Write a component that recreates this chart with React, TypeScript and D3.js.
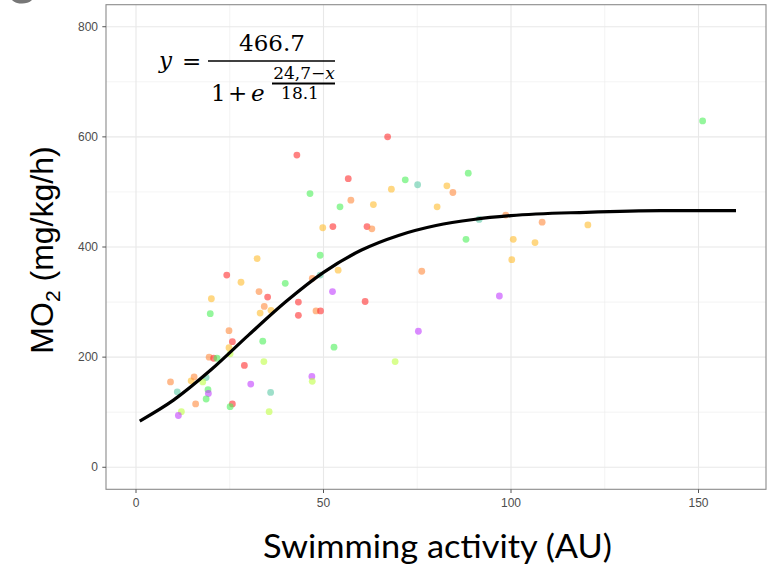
import * as d3 from "d3";

// swimming activity (AU) of each fish
const activity = [
  42.9, 56.6, 46.4, 57.3, 54.4, 49.8, 52.5, 49.1, 32.3, 53.9,
  24.2, 47.0, 49.1, 28.0, 39.8, 52.4, 32.8, 35.1, 20.1, 43.3,
  34.2, 33.1, 36.0, 19.8, 43.3, 48.0, 49.2, 24.8, 25.7, 33.8,
  24.8, 25.1, 19.5, 20.7, 21.6, 34.1, 28.9, 9.2, 14.7, 15.5,
  18.7, 17.8, 11.0, 19.2, 19.3, 30.6, 35.9, 46.9, 47.0, 52.8,
  15.9, 18.7, 25.7, 25.1, 35.5, 12.1, 11.3, 67.1, 75.1, 71.8,
  68.1, 63.3, 88.6, 82.9, 84.5, 80.3, 61.6, 62.9, 91.5, 98.6,
  108.3, 88.0, 100.6, 106.4, 100.2, 76.2, 96.9, 61.1, 75.3, 69.1,
  151.1, 120.5,
];

// MO2 (mg/kg/h)
const mo2 = [
  567, 524, 497, 485, 473, 435, 437, 385, 379, 358,
  349, 343, 349, 336, 334, 319, 319, 309, 306, 300,
  292, 280, 285, 279, 276, 284, 284, 248, 228, 229,
  217, 206, 200, 198, 198, 192, 185, 155, 157, 164,
  163, 155, 137, 141, 134, 151, 136, 165, 156, 218,
  115, 124, 115, 110, 101, 101, 94, 600, 513, 522,
  505, 477, 534, 511, 499, 473, 437, 433, 450, 458,
  445, 414, 414, 408, 377, 356, 311, 301, 247, 192,
  629, 440,
];

// colour group of each point
const group = [
  "R", "R", "G", "O", "G", "Y", "R", "G", "Y", "Y",
  "R", "O", "T", "Y", "G", "P", "O", "R", "Y", "R",
  "O", "Y", "Y", "G", "R", "O", "R", "O", "R", "G",
  "Y", "L", "O", "R", "G", "L", "R", "O", "Y", "O",
  "T", "L", "T", "G", "P", "P", "T", "P", "L", "G",
  "O", "G", "R", "G", "L", "L", "P", "R", "T", "G",
  "Y", "Y", "G", "Y", "O", "Y", "R", "O", "T", "O",
  "O", "G", "Y", "Y", "Y", "O", "P", "R", "P", "L",
  "G", "Y",
];

const groupKeys = ["R", "O", "Y", "L", "G", "T", "P"];
const groupColors = ["#ff2e2e", "#ff8a3d", "#ffbd2e", "#bfff45", "#4cf05a", "#5ec9a6", "#c23dff"];

// fitted logistic curve
const fitX = [1, 10, 20, 30, 40, 50, 60, 70, 80, 90, 100, 120, 140, 160];
const fitY = [84, 122, 177, 240, 301, 354, 394, 421, 439, 450, 457, 463, 466, 466];

const xTicks = [0, 50, 100, 150];
const xMinor = [25, 75, 125];
const yTicks = [0, 200, 400, 600, 800];
const yMinor = [100, 300, 500, 700];

const W = 772;
const H = 567;
const panel = { left: 106, right: 766, top: 4.7, bottom: 489.3 };

export default function App() {
  const x = d3.scaleLinear().domain([-8, 168]).range([panel.left, panel.right]);
  const y = d3.scaleLinear().domain([-40, 840]).range([panel.bottom, panel.top]);
  const color = d3.scaleOrdinal<string, string>().domain(groupKeys).range(groupColors);

  const line = d3
    .line<number>()
    .x((d, i) => x(fitX[i]))
    .y((d) => y(d))
    .curve(d3.curveMonotoneX);

  const tickFont = "'Liberation Sans', Arial, sans-serif";
  const eqFont = "'DejaVu Serif', serif";

  return (
    <svg width={W} height={H} style={{ position: "absolute", left: 0, top: 0, background: "#fff" }}>
      {/* bottom of a cut-off letter above the chart */}
      <text x={9} y={-6} fontFamily="Lato, sans-serif" fontSize={52} fill="#777">g</text>

      {/* grid */}
      {xMinor.map((t) => (
        <line key={"xm" + t} x1={x(t)} x2={x(t)} y1={panel.top} y2={panel.bottom} stroke="#ececec" strokeWidth={0.6} />
      ))}
      {yMinor.map((t) => (
        <line key={"ym" + t} x1={panel.left} x2={panel.right} y1={y(t)} y2={y(t)} stroke="#ececec" strokeWidth={0.6} />
      ))}
      {xTicks.map((t) => (
        <line key={"xg" + t} x1={x(t)} x2={x(t)} y1={panel.top} y2={panel.bottom} stroke="#e8e8e8" strokeWidth={1.1} />
      ))}
      {yTicks.map((t) => (
        <line key={"yg" + t} x1={panel.left} x2={panel.right} y1={y(t)} y2={y(t)} stroke="#e8e8e8" strokeWidth={1.1} />
      ))}

      {/* points */}
      {activity.map((a, i) => (
        <circle key={"p" + i} cx={x(a)} cy={y(mo2[i])} r={3.4} fill={color(group[i])} fillOpacity={0.6} />
      ))}

      {/* fit */}
      <path d={line(fitY) ?? ""} fill="none" stroke="#000" strokeWidth={3.2} />

      {/* panel border */}
      <rect
        x={panel.left}
        y={panel.top}
        width={panel.right - panel.left}
        height={panel.bottom - panel.top}
        fill="none"
        stroke="#8a8a8a"
        strokeWidth={1.1}
      />

      {/* axes ticks & labels */}
      {xTicks.map((t) => (
        <g key={"xt" + t}>
          <line x1={x(t)} x2={x(t)} y1={panel.bottom} y2={panel.bottom + 3.7} stroke="#555" strokeWidth={1} />
          <text x={x(t)} y={507} textAnchor="middle" fontFamily={tickFont} fontSize={12} fill="#4d4d4d">
            {t}
          </text>
        </g>
      ))}
      {yTicks.map((t) => (
        <g key={"yt" + t}>
          <line x1={panel.left - 3.7} x2={panel.left} y1={y(t)} y2={y(t)} stroke="#555" strokeWidth={1} />
          <text x={98} y={y(t) + 4.2} textAnchor="end" fontFamily={tickFont} fontSize={12} fill="#4d4d4d">
            {t}
          </text>
        </g>
      ))}

      {/* axis titles */}
      <text
        x={263}
        y={558}
        textLength={349}
        lengthAdjust="spacingAndGlyphs"
        fontFamily="Lato, sans-serif"
        fontSize={32}
        fill="#000"
      >
        Swimming activity (AU)
      </text>
      <text
        transform="translate(53,250) rotate(-90)"
        textAnchor="middle"
        fontFamily={tickFont}
        fontSize={32}
        fill="#000"
      >
        MO<tspan fontSize={21} dy={7}>2</tspan>
        <tspan dy={-7}> (mg/kg/h)</tspan>
      </text>

      {/* equation */}
      <g fontFamily={eqFont} fill="#000">
        <text x={159} y={68} fontSize={23} fontStyle="italic">y</text>
        <text x={182} y={69} fontSize={23}>=</text>
        <text x={272} y={51} fontSize={23} textAnchor="middle">466.7</text>
        <line x1={208} x2={335} y1={61} y2={61} stroke="#000" strokeWidth={1.3} />
        <text x={211} y={101} fontSize={23}>1</text>
        <text x={228} y={101} fontSize={23}>+</text>
        <text x={251} y={101} fontSize={23} fontStyle="italic">e</text>
        <text x={304} y={79} fontSize={17} textAnchor="middle">
          24,7−<tspan fontStyle="italic">x</tspan>
        </text>
        <line x1={272} x2={335} y1={83.5} y2={83.5} stroke="#000" strokeWidth={1.8} />
        <text x={300} y={99} fontSize={17} textAnchor="middle">18.1</text>
      </g>
    </svg>
  );
}
